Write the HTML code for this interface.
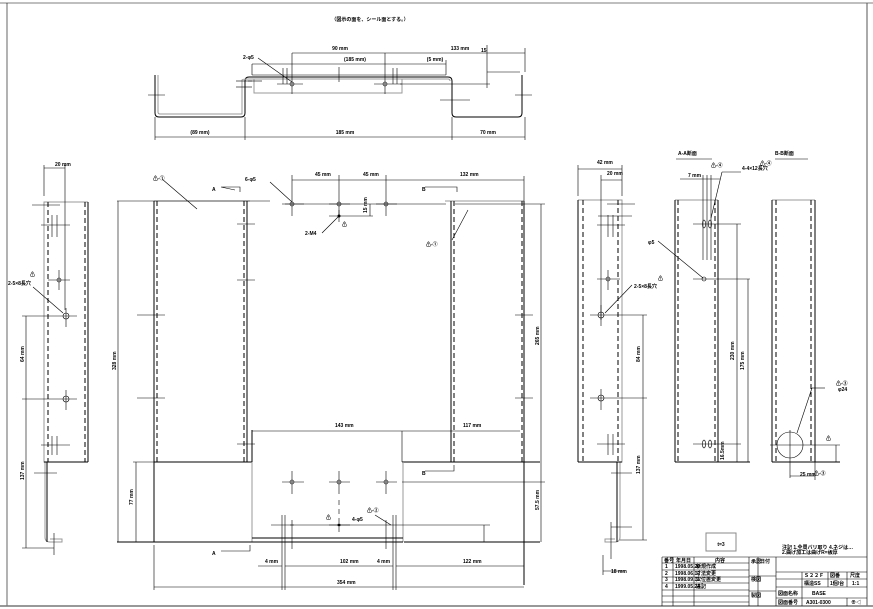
<!DOCTYPE html>
<html><head><meta charset="utf-8"><style>
html,body{margin:0;padding:0;background:#fff;}
svg{display:block;font-family:"Liberation Sans","Noto Sans CJK JP",sans-serif;}
text{font-size:5px;fill:#000;font-weight:bold;}
.k{stroke:#000;stroke-width:1;fill:none;}
.t{stroke:#000;stroke-width:0.6;fill:none;}
.g{stroke:#999;stroke-width:1;fill:none;}
.d{stroke:#000;stroke-width:1;fill:none;stroke-dasharray:5,3;}
</style></head><body>
<svg width="873" height="609" viewBox="0 0 873 609">
<!-- border -->
<line x1="0" y1="3" x2="873" y2="3" stroke="#aaa" stroke-width="1.5"/>
<line x1="7" y1="3" x2="7" y2="606" class="t"/>
<line x1="867" y1="3" x2="867" y2="606" stroke="#555" stroke-width="1"/>
<line x1="0" y1="606" x2="873" y2="606" stroke="#777" stroke-width="1.5"/>
<text x="370" y="21" font-size="8" text-anchor="middle">（図示の面を、シール面とする。）</text>

<!-- TOP VIEW -->
<path class="k" d="M155 75 V113 Q155 117 159 117 H241 Q245 117 245 113 V81 Q245 77 249 77 H448 Q452 77 452 81 V113 Q452 117 456 117 H518 Q522 117 522 113 V75"/>
<path class="g" d="M158 75 V112 Q158 114 160 114 H242 V80 Q242 79 249 79 H448 Q450 79 450 81"/>
<path class="g" d="M254 79 V93 H402 V79"/>
<line class="t" x1="252" y1="75" x2="446" y2="75"/>
<line class="t" x1="248" y1="81" x2="262" y2="81"/>
<line class="t" x1="236" y1="81" x2="252" y2="81"/><line class="t" x1="236" y1="87" x2="252" y2="87"/>
<line class="t" x1="148" y1="95" x2="165" y2="95"/><line class="t" x1="515" y1="95" x2="532" y2="95"/>
<line class="t" x1="440" y1="100" x2="470" y2="100"/>
<line class="t" x1="277" y1="84" x2="303" y2="84"/>
<circle class="t" cx="292" cy="84" r="2"/><circle class="t" cx="385" cy="84" r="2"/>
<line class="t" x1="292" y1="53" x2="292" y2="94"/><line class="t" x1="385" y1="53" x2="385" y2="94"/>
<line class="t" x1="283" y1="68" x2="283" y2="84"/><line class="t" x1="287" y1="68" x2="287" y2="84"/>
<line class="t" x1="393" y1="68" x2="393" y2="84"/><line class="t" x1="397" y1="68" x2="397" y2="84"/>
<line class="t" x1="339" y1="67" x2="339" y2="82"/>
<line class="t" x1="374" y1="84" x2="402" y2="84"/>
<line class="t" x1="400" y1="84" x2="490" y2="84"/>
<line class="t" x1="292" y1="53" x2="525" y2="53"/>
<line class="t" x1="252" y1="64" x2="446" y2="64"/>
<line class="t" x1="252" y1="64" x2="252" y2="75"/><line class="t" x1="446" y1="60" x2="446" y2="75"/>
<line class="t" x1="525" y1="48" x2="525" y2="72"/>
<line class="t" x1="487" y1="45" x2="487" y2="88"/><line class="t" x1="487" y1="72" x2="520" y2="72"/>
<line class="t" x1="258" y1="58" x2="292" y2="82"/>
<text x="243" y="59">2-φ5</text>
<text x="340" y="50" text-anchor="middle">90 mm</text>
<text x="460" y="50" text-anchor="middle">133 mm</text>
<text x="355" y="61" text-anchor="middle">(185 mm)</text>
<text x="435" y="61" text-anchor="middle">(5 mm)</text>
<text x="481" y="52" font-size="4">15</text>
<line class="t" x1="155" y1="117" x2="155" y2="140"/><line class="t" x1="245" y1="117" x2="245" y2="140"/>
<line class="t" x1="452" y1="117" x2="452" y2="140"/><line class="t" x1="525" y1="117" x2="525" y2="140"/>
<line class="t" x1="155" y1="137" x2="525" y2="137"/>
<text x="200" y="134" text-anchor="middle">(89 mm)</text>
<text x="345" y="134" text-anchor="middle">185 mm</text>
<text x="488" y="134" text-anchor="middle">70 mm</text>

<!-- MAIN VIEW -->
<line class="g" x1="154" y1="201" x2="250" y2="201"/>
<line class="g" x1="445" y1="201" x2="524" y2="201"/>
<line class="t" x1="117" y1="201" x2="270" y2="201"/>
<line class="t" x1="285" y1="204" x2="446" y2="204"/>
<line class="t" x1="455" y1="204" x2="545" y2="204"/>
<line class="k" x1="154" y1="201" x2="154" y2="462"/><line class="d" x1="157" y1="201" x2="157" y2="462"/>
<line class="d" x1="244" y1="201" x2="244" y2="462"/><line class="k" x1="247" y1="201" x2="247" y2="462"/>
<line class="k" x1="252" y1="430" x2="252" y2="462"/>
<line class="k" x1="451" y1="201" x2="451" y2="462"/><line class="d" x1="454" y1="201" x2="454" y2="462"/>
<line class="d" x1="522" y1="201" x2="522" y2="462"/><line class="k" x1="524" y1="201" x2="524" y2="585"/>
<line class="t" x1="137" y1="315" x2="165" y2="315"/><line class="t" x1="137" y1="398" x2="165" y2="398"/>
<line class="t" x1="237" y1="224" x2="255" y2="224"/><line class="t" x1="237" y1="280" x2="255" y2="280"/><line class="t" x1="237" y1="444" x2="255" y2="444"/>
<line class="t" x1="515" y1="315" x2="533" y2="315"/><line class="t" x1="515" y1="398" x2="533" y2="398"/>
<path class="k" d="M154 462 H252 V542 H154 Z"/>
<line class="k" x1="402" y1="462" x2="540" y2="462"/>
<line class="k" x1="404" y1="542" x2="540" y2="542"/>
<path class="g" d="M252 462 V542 M403 462 V542"/>
<line class="k" x1="252" y1="538" x2="403" y2="538"/><line class="k" x1="252" y1="542" x2="403" y2="542"/>
<line class="k" x1="117" y1="542" x2="252" y2="542"/>
<line class="t" x1="133" y1="462" x2="154" y2="462"/>
<line class="t" x1="402" y1="431" x2="402" y2="462"/>
<line class="t" x1="402" y1="482" x2="545" y2="482"/>
<line class="t" x1="290" y1="525" x2="490" y2="525"/>
<g class="t">
<circle cx="292" cy="204" r="2"/><line x1="282" y1="204" x2="304" y2="204"/><line x1="292" y1="175" x2="292" y2="216"/>
<circle cx="339" cy="204" r="2"/><line x1="329" y1="204" x2="350" y2="204"/><line x1="339" y1="175" x2="339" y2="216"/>
<circle cx="386" cy="204" r="2"/><line x1="376" y1="204" x2="397" y2="204"/><line x1="386" y1="175" x2="386" y2="216"/>
<line x1="329" y1="216" x2="373" y2="216"/><line x1="339" y1="210" x2="339" y2="222"/>
<line x1="370" y1="204" x2="370" y2="216"/>
<circle cx="292" cy="482" r="2"/><line x1="282" y1="482" x2="304" y2="482"/><line x1="292" y1="471" x2="292" y2="494"/>
<circle cx="339" cy="482" r="2"/><line x1="329" y1="482" x2="350" y2="482"/><line x1="339" y1="471" x2="339" y2="494"/>
<circle cx="386" cy="482" r="2"/><line x1="376" y1="482" x2="397" y2="482"/><line x1="386" y1="471" x2="386" y2="494"/>
<line x1="339" y1="500" x2="339" y2="535" stroke-dasharray="5,4"/><line x1="329" y1="525" x2="350" y2="525"/>
<line x1="271" y1="525" x2="294" y2="525"/>
<line x1="282" y1="515" x2="282" y2="590"/><line x1="285" y1="515" x2="285" y2="590"/><line x1="292" y1="520" x2="292" y2="549"/>
<line x1="386" y1="520" x2="386" y2="549"/><line x1="393" y1="515" x2="393" y2="590"/><line x1="396" y1="515" x2="396" y2="590"/>
</g>
<circle cx="339" cy="525" r="1.5" fill="#000"/><circle cx="339" cy="216" r="1.5" fill="#000"/>
<g class="t">
<line x1="292" y1="180" x2="524" y2="180"/><line x1="524" y1="176" x2="524" y2="201"/>
<line x1="270" y1="182" x2="292" y2="202"/><line x1="162" y1="179" x2="197" y2="209"/>
<line x1="468" y1="210" x2="452" y2="240"/><line x1="322" y1="233" x2="339" y2="216"/>
<line x1="118" y1="201" x2="118" y2="542"/><line x1="136" y1="462" x2="136" y2="542"/>
<line x1="541" y1="204" x2="541" y2="542"/>
<line x1="252" y1="431" x2="520" y2="431"/>
<line x1="154" y1="545" x2="154" y2="590"/><line x1="154" y1="587" x2="524" y2="587"/>
<line x1="258" y1="566" x2="282" y2="566"/><line x1="285" y1="566" x2="393" y2="566"/><line x1="396" y1="566" x2="524" y2="566"/>
<line x1="484" y1="525" x2="484" y2="542"/>
<line x1="375" y1="515" x2="391" y2="525"/>
</g>
<path class="t" d="M221 187 H240 V192 M221 187 L235 190"/><path class="t" d="M425 187 H457 V192"/>
<path class="t" d="M425 471 H454 V465"/><path class="t" d="M221 551 H250 V545"/>
<text x="153" y="180" font-size="6">⚠-①</text>
<text x="212" y="191" font-size="7">A</text>
<text x="422" y="191" font-size="7">B</text>
<text x="422" y="475" font-size="7">B</text>
<text x="212" y="555" font-size="7">A</text>
<text x="245" y="181">6-φ5</text>
<text x="315" y="176">45 mm</text>
<text x="363" y="176">45 mm</text>
<text x="460" y="176">132 mm</text>
<text x="305" y="235">2-M4</text>
<text x="342" y="226" font-size="6">⚠</text>
<text x="426" y="246" font-size="6">⚠-①</text>
<text x="335" y="427">143 mm</text>
<text x="463" y="427">117 mm</text>
<text x="352" y="521">4-φ5</text>
<text x="367" y="512" font-size="6">⚠-②</text>
<text x="326" y="519" font-size="6">⚠</text>
<text x="340" y="563">102 mm</text>
<text x="265" y="563">4 mm</text>
<text x="377" y="563">4 mm</text>
<text x="463" y="563">122 mm</text>
<text x="337" y="584">354 mm</text>
<text transform="translate(116,370) rotate(-90)">328 mm</text>
<text transform="translate(133,505) rotate(-90)">77 mm</text>
<text transform="translate(539,345) rotate(-90)">265 mm</text>
<text transform="translate(539,510) rotate(-90)">57.5 mm</text>
<text transform="translate(367,213) rotate(-90)" font-size="4">15 mm</text>

<!-- LEFT SIDE VIEW -->
<path class="g" d="M88 202 H44 V462 H45 V537 Q45 542 50 542 H62 V539 H50"/>
<line class="k" x1="88" y1="202" x2="88" y2="462"/><line class="k" x1="44" y1="462" x2="88" y2="462"/>
<line class="d" x1="48" y1="202" x2="48" y2="462"/><line class="d" x1="85" y1="202" x2="85" y2="462"/>
<line class="k" x1="47" y1="462" x2="47" y2="542"/>
<g class="t">
<line x1="44" y1="165" x2="44" y2="196"/><line x1="65" y1="165" x2="65" y2="310"/><line x1="44" y1="168" x2="65" y2="168"/>
<line x1="32" y1="205" x2="60" y2="205"/><line x1="41" y1="225" x2="70" y2="225"/><line x1="52" y1="215" x2="52" y2="237"/><line x1="57" y1="215" x2="57" y2="237"/>
<circle cx="59" cy="280" r="2"/><line x1="48" y1="280" x2="70" y2="280"/><line x1="59" y1="270" x2="59" y2="290"/>
<circle cx="66" cy="316" r="3"/><line x1="22" y1="316" x2="77" y2="316"/><line x1="66" y1="308" x2="66" y2="327"/>
<circle cx="66" cy="399" r="3"/><line x1="22" y1="399" x2="77" y2="399"/><line x1="66" y1="390" x2="66" y2="410"/>
<line x1="41" y1="445" x2="70" y2="445"/><line x1="52" y1="436" x2="52" y2="455"/><line x1="57" y1="436" x2="57" y2="455"/>
<line x1="34" y1="473" x2="57" y2="473"/><line x1="54" y1="533" x2="54" y2="555"/>
<line x1="26" y1="316" x2="26" y2="548"/><line x1="22" y1="548" x2="54" y2="548"/>
<line x1="33" y1="287" x2="63" y2="313"/>
</g>
<text x="55" y="166">20 mm</text>
<text x="30" y="276" font-size="6">⚠</text>
<text x="8" y="285">2-5×8長穴</text>
<text transform="translate(24,362) rotate(-90)">64 mm</text>
<text transform="translate(24,480) rotate(-90)">137 mm</text>

<!-- RIGHT SIDE VIEW -->
<path class="g" d="M578 200 H622 V462 H620 V537 Q620 542 615 542 H605 V539 H615"/>
<line class="k" x1="578" y1="200" x2="578" y2="462"/><line class="k" x1="578" y1="462" x2="622" y2="462"/>
<line class="d" x1="583" y1="200" x2="583" y2="462"/><line class="d" x1="618" y1="200" x2="618" y2="462"/>
<line class="k" x1="617" y1="462" x2="617" y2="542"/>
<g class="t">
<line x1="578" y1="165" x2="578" y2="196"/><line x1="622" y1="165" x2="622" y2="196"/><line x1="578" y1="169" x2="622" y2="169"/>
<line x1="601" y1="175" x2="601" y2="320"/><line x1="601" y1="180" x2="622" y2="180"/>
<line x1="607" y1="204" x2="635" y2="204"/><line x1="598" y1="216" x2="632" y2="216"/><line x1="597" y1="225" x2="625" y2="225"/>
<line x1="608" y1="215" x2="608" y2="237"/><line x1="613" y1="215" x2="613" y2="237"/>
<circle cx="608" cy="279" r="2"/><line x1="597" y1="279" x2="620" y2="279"/><line x1="608" y1="270" x2="608" y2="290"/>
<circle cx="601" cy="315" r="3"/><line x1="590" y1="315" x2="647" y2="315"/><line x1="601" y1="305" x2="601" y2="326"/>
<circle cx="601" cy="398" r="3"/><line x1="590" y1="398" x2="647" y2="398"/><line x1="601" y1="389" x2="601" y2="410"/>
<line x1="597" y1="444" x2="625" y2="444"/><line x1="608" y1="434" x2="608" y2="455"/><line x1="613" y1="434" x2="613" y2="455"/>
<line x1="611" y1="473" x2="632" y2="473"/><line x1="611" y1="527" x2="632" y2="527"/><line x1="611" y1="522" x2="611" y2="559"/>
<line x1="643" y1="315" x2="643" y2="540"/><line x1="620" y1="540" x2="647" y2="540"/>
<line x1="603" y1="571" x2="624" y2="571"/><line x1="603" y1="555" x2="603" y2="575"/>
<line x1="632" y1="285" x2="605" y2="313"/>
</g>
<text x="597" y="164">42 mm</text>
<text x="607" y="175">20 mm</text>
<text x="658" y="280" font-size="6">⚠</text>
<text x="634" y="288">2-5×8長穴</text>
<text transform="translate(640,362) rotate(-90)">84 mm</text>
<text transform="translate(640,474) rotate(-90)">137 mm</text>
<text x="611" y="573">18 mm</text>

<!-- A-A -->
<text x="678" y="155" font-size="8">A-A断面</text>
<line class="t" x1="676" y1="159" x2="712" y2="159"/>
<line class="g" x1="675" y1="200" x2="718" y2="200"/>
<line class="k" x1="675" y1="200" x2="675" y2="462"/><line class="k" x1="718" y1="200" x2="718" y2="462"/>
<line class="k" x1="675" y1="462" x2="750" y2="462"/>
<line class="d" x1="678" y1="200" x2="678" y2="462"/><line class="d" x1="715" y1="200" x2="715" y2="462"/>
<g class="t">
<line x1="680" y1="179" x2="720" y2="179"/><line x1="703" y1="175" x2="703" y2="260"/><line x1="711" y1="175" x2="711" y2="260"/><line x1="707" y1="175" x2="707" y2="260"/>
<line x1="693" y1="224" x2="741" y2="224"/><ellipse cx="704" cy="224" rx="1.5" ry="4"/><ellipse cx="710" cy="224" rx="1.5" ry="4"/>
<circle cx="704" cy="279" r="2"/><line x1="693" y1="279" x2="750" y2="279"/>
<line x1="693" y1="444" x2="741" y2="444"/><ellipse cx="704" cy="444" rx="1.5" ry="4"/><ellipse cx="710" cy="444" rx="1.5" ry="4"/>
<line x1="737" y1="224" x2="737" y2="462"/><line x1="748" y1="279" x2="748" y2="462"/>
<line x1="658" y1="241" x2="703" y2="278"/>
<line x1="741" y1="172" x2="722" y2="172"/><line x1="722" y1="172" x2="711" y2="218"/>
</g>
<text x="688" y="177">7 mm</text><text x="711" y="167" font-size="6">⚠-④</text>
<text x="742" y="170">4-4×12長穴</text><text x="760" y="165" font-size="6">⚠-④</text>
<text x="648" y="244">φ5</text>
<text transform="translate(734,360) rotate(-90)">230 mm</text>
<text transform="translate(744,370) rotate(-90)">175 mm</text>
<text transform="translate(724,460) rotate(-90)" font-size="4">16.5mm</text>

<!-- B-B -->
<text x="775" y="155" font-size="8">B-B断面</text>
<line class="t" x1="775" y1="159" x2="808" y2="159"/>
<line class="g" x1="772" y1="200" x2="815" y2="200"/>
<line class="k" x1="772" y1="200" x2="772" y2="462"/><line class="k" x1="815" y1="200" x2="815" y2="462"/>
<line class="k" x1="772" y1="462" x2="840" y2="462"/>
<line class="d" x1="776" y1="200" x2="776" y2="462"/><line class="d" x1="811" y1="200" x2="811" y2="462"/>
<g class="t">
<circle cx="790" cy="445" r="13"/>
<line x1="770" y1="445" x2="840" y2="445"/><line x1="790" y1="430" x2="790" y2="478"/>
<line x1="836" y1="445" x2="836" y2="462"/>
<line x1="812" y1="388" x2="825" y2="388"/><line x1="812" y1="388" x2="797" y2="433"/>
<line x1="790" y1="476" x2="815" y2="476"/><line x1="815" y1="462" x2="815" y2="480"/>
</g>
<text x="836" y="385" font-size="6">⚠-③</text><text x="838" y="391">φ24</text>
<text x="826" y="440" font-size="6">⚠</text>
<text x="800" y="476">25 mm</text><text x="814" y="475" font-size="6">⚠-③</text>

<!-- t=3 -->
<rect x="706" y="533" width="30" height="18" fill="none" stroke="#888" stroke-width="1"/>
<text x="721" y="546" font-size="9" font-weight="normal" text-anchor="middle">t=3</text>
<text x="782" y="549" font-size="4">注記 1.全周バリ取り 4.ネジは…</text>
<text x="782" y="554" font-size="4">2.曲げ加工は曲げR=板厚</text>

<!-- TITLE BLOCK -->
<g class="t">
<line x1="662" y1="557" x2="867" y2="557"/>
<line x1="662" y1="557" x2="662" y2="606"/>
<line x1="673" y1="557" x2="673" y2="606"/><line x1="694" y1="557" x2="694" y2="606"/>
<line x1="749" y1="557" x2="749" y2="606"/><line x1="758" y1="557" x2="758" y2="606"/><line x1="776" y1="557" x2="776" y2="606"/>
<line x1="662" y1="563" x2="749" y2="563"/><line x1="662" y1="570" x2="749" y2="570"/><line x1="662" y1="577" x2="749" y2="577"/>
<line x1="662" y1="583" x2="749" y2="583"/><line x1="662" y1="590" x2="749" y2="590"/><line x1="662" y1="596" x2="749" y2="596"/><line x1="662" y1="602" x2="749" y2="602"/>
<line x1="749" y1="576" x2="776" y2="576"/><line x1="749" y1="591" x2="776" y2="591"/>
<line x1="776" y1="572" x2="867" y2="572"/><line x1="776" y1="579" x2="867" y2="579"/><line x1="776" y1="587" x2="867" y2="587"/><line x1="776" y1="598" x2="867" y2="598"/>
<line x1="802" y1="572" x2="802" y2="606"/><line x1="828" y1="572" x2="828" y2="587"/><line x1="847" y1="572" x2="847" y2="587"/><line x1="847" y1="598" x2="847" y2="606"/>
</g>
<g font-size="3.5">
<text x="664" y="562">番号</text><text x="676" y="562">年月日</text><text x="715" y="562">内容</text>
<text x="665" y="568">1</text><text x="675" y="568">1998.05.20</text><text x="696" y="568">新規作成</text>
<text x="665" y="575">2</text><text x="675" y="575">1998.06.12</text><text x="696" y="575">寸法変更</text>
<text x="665" y="581">3</text><text x="675" y="581">1998.09.11</text><text x="696" y="581">穴位置変更</text>
<text x="665" y="588">4</text><text x="675" y="588">1999.05.24</text><text x="696" y="588">追記</text>
<text x="751" y="563">承認</text><text x="760" y="563">日付</text>
<text x="751" y="581">検図</text><text x="751" y="597">製図</text>
<text x="804" y="577">Ｓ２２Ｆ</text><text x="830" y="577">図番</text><text x="850" y="577">尺度</text>
<text x="804" y="585">構造SS</text><text x="830" y="585">1個/台</text><text x="852" y="585">1:1</text>
<text x="778" y="595">図面名称</text><text x="812" y="595">BASE</text>
<text x="778" y="604">図面番号</text><text x="806" y="604">A301-0300</text><text x="851" y="604">⊕◁</text>
</g>
</svg>
</body></html>
